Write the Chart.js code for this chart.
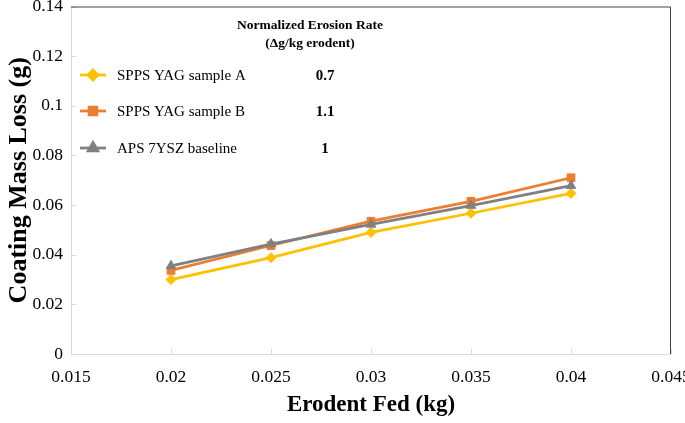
<!DOCTYPE html>
<html>
<head>
<meta charset="utf-8">
<script src="https://cdn.jsdelivr.net/npm/chart.js@4"></script>
<style>
html,body{margin:0;padding:0;background:#fff;}
#wrap{width:685px;height:423px;position:relative;}
</style>
</head>
<body>
<div id="wrap"><canvas id="c" width="685" height="423"></canvas></div>
<script>
// ---- data ----
const erodentFed = [0.02, 0.025, 0.03, 0.035, 0.04];
const sampleA = [0.030, 0.0388, 0.0490, 0.0567, 0.0647];
const sampleB = [0.0337, 0.0437, 0.0535, 0.0615, 0.0710];
const baseline7YSZ = [0.0355, 0.0443, 0.0522, 0.0598, 0.0678];
const seriesNames = ["SPPS YAG sample A", "SPPS YAG sample B", "APS 7YSZ baseline"];
const erosionRates = ["0.7", "1.1", "1"];
const legendHeader = ["Normalized Erosion Rate", "(\u0394g/kg erodent)"];
const xTickValues = [0.015, 0.02, 0.025, 0.03, 0.035, 0.04, 0.045];
const xTickLabels = ["0.015", "0.02", "0.025", "0.03", "0.035", "0.04", "0.045"];
const yTickValues = [0, 0.02, 0.04, 0.06, 0.08, 0.1, 0.12, 0.14];
const yTickLabels = ["0", "0.02", "0.04", "0.06", "0.08", "0.1", "0.12", "0.14"];
const xTitle = "Erodent Fed (kg)";
const yTitle = "Coating Mass Loss (g)";

const FONT = "'Liberation Serif', 'Times New Roman', serif";
const colors = ["#FFC000", "#ED7D31", "#808080"];
const shapes = ["rectRot", "rect", "triangle"];
const radii = [5, 5.5, 5.5];

function mk(data, i) {
  return {
    label: seriesNames[i],
    data: erodentFed.map((x, k) => ({x: x, y: data[k]})),
    borderColor: colors[i],
    backgroundColor: colors[i],
    pointBackgroundColor: colors[i],
    pointBorderColor: colors[i],
    pointStyle: shapes[i],
    pointRadius: radii[i],
    borderWidth: 2.75,
    pointBorderWidth: 1,
    order: 3 - i,
    tension: 0
  };
}

const framePlugin = {
  id: 'frame',
  beforeDatasetsDraw(chart) {
    const ctx = chart.ctx, a = chart.chartArea;
    const xs = chart.scales.x, ys = chart.scales.y;
    ctx.save();
    ctx.strokeStyle = '#d9d9d9';
    ctx.lineWidth = 1;
    ctx.beginPath();
    ctx.moveTo(a.left + 0.5, a.top);
    ctx.lineTo(a.left + 0.5, a.bottom + 0.5);
    ctx.lineTo(a.right, a.bottom + 0.5);
    ctx.stroke();
    ctx.beginPath();
    xTickValues.forEach(v => {
      const px = Math.round(xs.getPixelForValue(v)) + 0.5;
      ctx.moveTo(px, a.bottom);
      ctx.lineTo(px, a.bottom - 5);
    });
    yTickValues.forEach(v => {
      const py = Math.round(ys.getPixelForValue(v)) + 0.5;
      ctx.moveTo(a.left, py);
      ctx.lineTo(a.left + 5, py);
    });
    ctx.stroke();
    ctx.strokeStyle = '#404040';
    ctx.lineWidth = 1;
    ctx.beginPath();
    ctx.moveTo(a.left, a.top + 0.5);
    ctx.lineTo(a.right - 0.5, a.top + 0.5);
    ctx.lineTo(a.right - 0.5, a.bottom);
    ctx.stroke();
    ctx.restore();
  },
  afterDraw(chart) {
    const ctx = chart.ctx;
    ctx.save();
    ctx.fillStyle = '#000';
    ctx.textAlign = 'center';
    ctx.textBaseline = 'middle';
    ctx.font = "bold 13.5px " + FONT;
    ctx.fillText(legendHeader[0], 310, 26);
    ctx.fillText(legendHeader[1], 310, 44);
    const rows = [75, 111, 148];
    chart.data.datasets.forEach((ds, i) => {
      const y = rows[i];
      ctx.strokeStyle = ds.borderColor;
      ctx.lineWidth = 2.75;
      ctx.beginPath();
      ctx.moveTo(80, y);
      ctx.lineTo(106, y);
      ctx.stroke();
      Chart.helpers.drawPoint(ctx, {pointStyle: ds.pointStyle, radius: ds.pointRadius, rotation: 0, borderWidth: 1}, 93, y);
      ctx.fillStyle = ds.borderColor;
      ctx.fill();
      ctx.fillStyle = '#000';
      ctx.textAlign = 'left';
      ctx.font = "15px " + FONT;
      ctx.fillText(ds.label, 117, y + 1);
      ctx.textAlign = 'center';
      ctx.font = "bold 15px " + FONT;
      ctx.fillText(erosionRates[i], 325, y + 1);
    });
    ctx.restore();
  }
};

new Chart(document.getElementById('c'), {
  type: 'line',
  data: {
    datasets: [mk(sampleA, 0), mk(sampleB, 1), mk(baseline7YSZ, 2)]
  },
  options: {
    responsive: false,
    animation: false,
    devicePixelRatio: 1,
    layout: {padding: {top: 5, right: 14, left: 0, bottom: 0}},
    plugins: {legend: {display: false}, tooltip: {enabled: false}},
    scales: {
      x: {
        type: 'linear',
        min: 0.015, max: 0.045,
        afterBuildTicks(s) { s.ticks = xTickValues.map(v => ({value: v})); },
        afterFit(s) { s.height = 69; s.paddingLeft = 0; s.paddingRight = 0; },
        grid: {display: false, drawTicks: false},
        border: {display: false},
        ticks: {
          callback: (v, i) => xTickLabels[i],
          font: {family: FONT, size: 17.5}, color: '#000', padding: 13, maxRotation: 0
        },
        title: {display: true, text: xTitle, font: {family: FONT, size: 23, weight: 'bold'}, color: '#000', padding: {top: 4}}
      },
      y: {
        type: 'linear',
        min: 0, max: 0.14,
        afterBuildTicks(s) { s.ticks = yTickValues.map(v => ({value: v})); },
        afterFit(s) { s.width = 71; s.paddingTop = 0; s.paddingBottom = 0; },
        grid: {display: false, drawTicks: false},
        border: {display: false},
        ticks: {
          callback: (v, i) => yTickLabels[i],
          font: {family: FONT, size: 17.5}, color: '#000', padding: 8
        },
        title: {display: true, text: yTitle, font: {family: FONT, size: 26, weight: 'bold'}, color: '#000', padding: {bottom: 0}}
      }
    }
  },
  plugins: [framePlugin]
});
</script>
</body>
</html>
